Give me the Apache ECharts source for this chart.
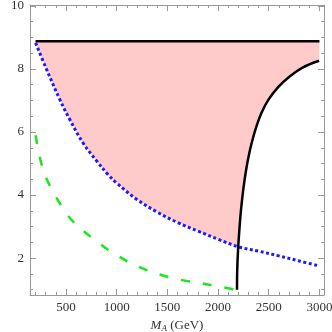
<!DOCTYPE html>
<html>
<head>
<meta charset="utf-8">
<script src="https://cdn.jsdelivr.net/npm/echarts@6/dist/echarts.min.js"></script>
<style>
  html, body { margin: 0; padding: 0; background: #fff; }
  #chart { width: 332px; height: 332px; }
</style>
</head>
<body>
<div id="chart"></div>
<script>
// tick labels
const xMajor = [500, 1000, 1500, 2000, 2500, 3000];
const yMajor = [2, 4, 6, 8, 10];

// curves: [M_A, g]
const topLine = [[200, 8.88], [3000, 8.88]];
const blueCurve = [
  [200, 8.83], [300, 8.05], [441, 7.02], [540, 6.38], [671, 5.64], [803, 5.08],
  [918, 4.64], [1000, 4.38], [1200, 3.86], [1400, 3.46], [1600, 3.13],
  [1800, 2.86], [2000, 2.6], [2200, 2.36], [2400, 2.22], [2600, 2.07],
  [2800, 1.91], [3000, 1.75]
];
const blackCurve = [
  [2187, 1.0], [2189, 1.62], [2197, 2.25], [2210, 2.89], [2226, 3.52],
  [2252, 4.26], [2282, 4.9], [2315, 5.43], [2348, 5.85], [2385, 6.24],
  [2430, 6.62], [2496, 7.02], [2595, 7.43], [2694, 7.73], [2825, 8.03], [2997, 8.26]
];
const greenCurve = [
  [200, 5.9], [276, 4.79], [391, 4.0], [500, 3.45], [572, 3.15], [787, 2.57],
  [1017, 2.06], [1281, 1.64], [1511, 1.4], [1700, 1.27], [1841, 1.2],
  [2000, 1.1], [2180, 1.0]
];
const crossing = [2196, 2.36];

// allowed region: between top line and lower envelope (blue, then black)
const region = []
  .concat(topLine)
  .concat(blackCurve.filter(p => p[0] > crossing[0]).reverse())
  .concat([crossing])
  .concat(blueCurve.filter(p => p[0] < crossing[0]).reverse());

const xMinor = [];
for (let v = 200; v <= 3000; v += 100) xMinor.push(v);
const yMinor = [];
for (let v = 1; v <= 10; v += 0.5) yMinor.push(v);

const FONT = 'Liberation Serif';
const AX = '#999';

function xAx(pos, ticks, len, labels, line) {
  return {
    type: 'value', position: pos, min: 145, max: 3045,
    axisLine: { show: line, lineStyle: { color: AX, width: 1 } },
    splitLine: { show: false },
    axisTick: { show: true, inside: true, length: len, customValues: ticks, lineStyle: { color: AX } },
    axisLabel: {
      show: labels, customValues: xMajor, fontFamily: FONT, fontSize: 13, color: '#333', margin: 6,
      formatter: v => String(v)
    }
  };
}
function yAx(pos, ticks, len, labels, line) {
  return {
    type: 'value', position: pos, min: 0.83, max: 10.03,
    axisLine: { show: line, lineStyle: { color: AX, width: 1 } },
    splitLine: { show: false },
    axisTick: { show: true, inside: true, length: len, customValues: ticks, lineStyle: { color: AX } },
    axisLabel: {
      show: labels, customValues: yMajor, fontFamily: FONT, fontSize: 13, color: '#333', margin: 6,
      formatter: v => String(v)
    }
  };
}

const chart = echarts.init(document.getElementById('chart'));
const xMain = xAx('bottom', xMajor, 6, true, true);
xMain.name = '{i|M}{s|A} (GeV)';
xMain.nameLocation = 'middle';
xMain.nameGap = 23;
xMain.nameTextStyle = {
  fontFamily: FONT, fontSize: 13, color: '#333',
  rich: {
    i: { fontFamily: FONT, fontStyle: 'italic', fontSize: 13, color: '#333' },
    s: { fontFamily: FONT, fontStyle: 'italic', fontSize: 9, color: '#333', verticalAlign: 'bottom', padding: [6, 0, 0, 0] }
  }
};
const yMain = yAx('left', yMajor, 6, true, true);
yMain.name = 'g\u0303';
yMain.nameLocation = 'middle';
yMain.nameGap = 20;
yMain.nameRotate = 90;
yMain.nameTextStyle = { fontFamily: FONT, fontStyle: 'italic', fontSize: 12, color: '#333' };

chart.setOption({
  animation: false,
  grid: { left: 30, right: 8, top: 5, bottom: 37, outerBoundsMode: 'none', containLabel: false },
  xAxis: [
    xMain,
    xAx('bottom', xMinor, 3, false, false),
    xAx('top', xMajor, 6, false, true),
    xAx('top', xMinor, 3, false, false)
  ],
  yAxis: [
    yMain,
    yAx('left', yMinor, 3, false, false),
    yAx('right', yMajor, 6, false, true),
    yAx('right', yMinor, 3, false, false)
  ],
  series: [
    {
      type: 'custom',
      data: [0],
      clip: true,
      z: 1,
      renderItem: function (params, api) {
        return {
          type: 'polygon',
          shape: { points: region.map(p => api.coord(p)), smooth: 0 },
          style: { fill: '#ffcaca', stroke: null }
        };
      }
    },
    {
      type: 'line', data: blueCurve, symbol: 'none', smooth: 0.4, z: 3,
      lineStyle: { color: '#1a1aff', width: 3, type: [3, 2.5] }
    },
    {
      type: 'line', data: greenCurve, symbol: 'none', smooth: 0.4, z: 3,
      lineStyle: { color: '#1ee61e', width: 2.5, type: [9, 13] }
    },
    {
      type: 'line', data: blackCurve, symbol: 'none', smooth: 0.4, z: 4,
      lineStyle: { color: '#000', width: 2.5 }
    },
    {
      type: 'line', data: topLine, symbol: 'none', z: 4,
      lineStyle: { color: '#000', width: 2.5 }
    }
  ]
});
</script>
</body>
</html>
